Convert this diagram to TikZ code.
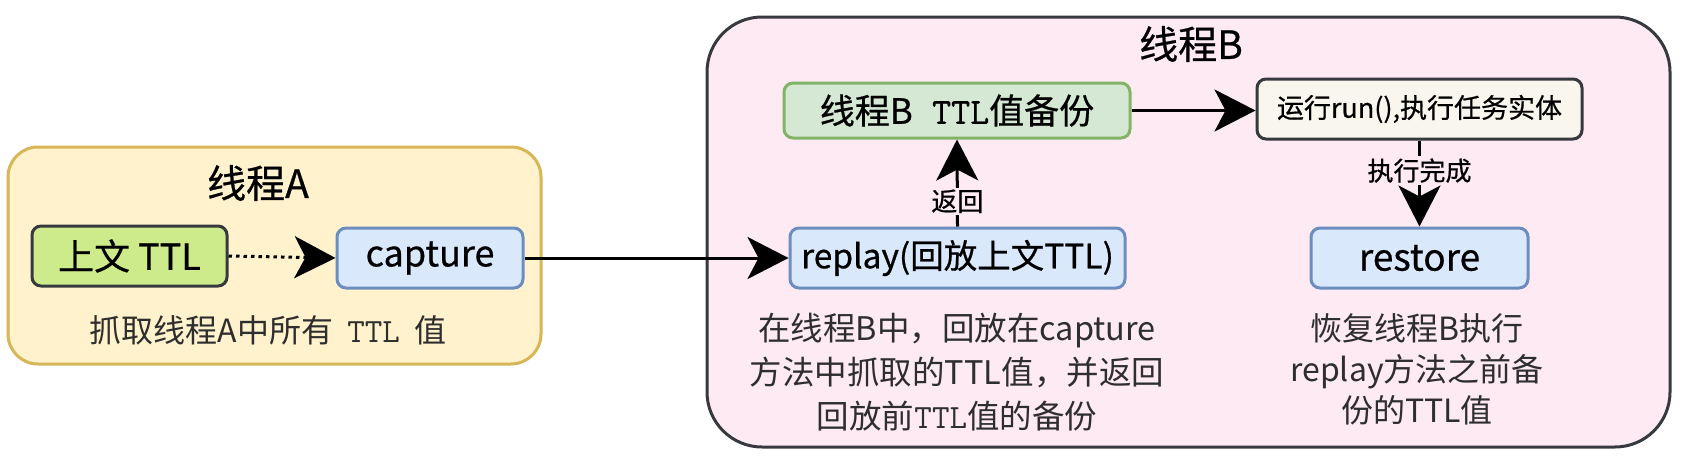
\documentclass[tikz,border=0pt]{standalone}
\usepackage{fontspec}
\setmainfont{Noto Sans CJK SC}
\newfontfamily\medfont[FakeBold=0.6]{Noto Sans CJK SC}
\newfontfamily\medtt[FakeBold=0.8]{Latin Modern Mono}
\usetikzlibrary{arrows.meta}
\definecolor{Afill}{HTML}{FFF2CC}
\definecolor{Adraw}{HTML}{D6B656}
\definecolor{Bfill}{HTML}{FDEAF3}
\definecolor{Bdraw}{HTML}{36393D}
\definecolor{ctxfill}{HTML}{CDEB8B}
\definecolor{darkdraw}{HTML}{36393D}
\definecolor{bluefill}{HTML}{DAE8FC}
\definecolor{bluedraw}{HTML}{6C8EBF}
\definecolor{greenfill}{HTML}{D5E8D4}
\definecolor{greendraw}{HTML}{82B366}
\definecolor{runfill}{HTML}{F9F7ED}
\definecolor{desc}{HTML}{2E2E2E}
\tikzset{
  x=1pt,y=-1pt,
  group/.style={rectangle, line width=3pt, inner sep=0pt},
  box/.style={rectangle, line width=3pt, rounded corners=9pt, inner sep=0pt, minimum height=60pt},
  bluebox/.style={box, fill=bluefill, draw=bluedraw},
  title/.style={inner sep=0pt, font=\medfont\fontsize{39}{47}\selectfont},
  desctext/.style={inner sep=0pt, align=center, text=desc},
  conn/.style={line width=3pt, -{Stealth[length=41pt,width=42pt,inset=11pt]}},
  elabel/.style={fill=Bfill, inner sep=2pt, font=\medfont\fontsize{26}{30}\selectfont}
}
\begin{document}
\begin{tikzpicture}
\useasboundingbox (0,0) rectangle (1688,466);
% groups
\node[group, fill=Afill, draw=Adraw, rounded corners=30pt, minimum width=533pt, minimum height=217pt] (A) at (274.5,255.5) {};
\node[group, fill=Bfill, draw=Bdraw, rounded corners=55pt, minimum width=963pt, minimum height=430pt] (B) at (1188.5,232) {};
\node[title] (tA) at (258,183) {线程A};
\node[title] (tB) at (1191,44) {线程B};
% boxes
\node[box, fill=ctxfill, draw=darkdraw, minimum width=195pt, font=\medfont\fontsize{36}{40}\selectfont] (ctx) at (129.5,256) {上文 TTL};
\node[bluebox, minimum width=186pt, font=\medfont\fontsize{36}{42}\selectfont] (cap) at (430,258) {capture};
\node[box, fill=greenfill, draw=greendraw, minimum width=346pt, minimum height=55pt, font=\medfont\fontsize{35}{40}\selectfont] (bak) at (957,110.5) {线程B\hspace{0.55em}{\medtt\fontsize{37}{40}\selectfont TTL}值备份};
\node[box, fill=runfill, draw=darkdraw, minimum width=325pt, font=\medfont\fontsize{27}{32}\selectfont] (run) at (1419.5,109) {运行run(),执行任务实体};
\node[bluebox, minimum width=335pt, font=\medfont\fontsize{33.5}{40}\selectfont] (rep) at (957.5,258) {replay(回放上文TTL)};
\node[bluebox, minimum width=217pt, font=\medfont\fontsize{37}{42}\selectfont] (res) at (1419.5,258) {restore};
% descriptions
\node[desctext, font=\fontsize{32}{40}\selectfont] (dA) at (268,330) {抓取线程A中所有\hspace{0.45em}{\ttfamily\fontsize{34}{40}\selectfont TTL}\hspace{0.45em}值};
\node[desctext, font=\fontsize{32.5}{44}\selectfont] (dRep) at (957,372) {在线程B中，回放在capture\\方法中抓取的TTL值，并返回\\回放前{\ttfamily\fontsize{34}{44}\selectfont TTL}值的备份};
\node[desctext, font=\fontsize{32}{41}\selectfont] (dRes) at (1417,369) {恢复线程B执行\\replay方法之前备\\份的TTL值};
% connectors
\draw[conn, dash pattern=on 3.5pt off 4pt] (ctx.east) -- (cap.west);
\draw[conn] (cap.east) -- (rep.west);
\draw[conn] (rep.north) -- node[elabel, pos=0.29] (lRet) {返回} (bak.south);
\draw[conn] (bak.east) -- (bak.east -| run.west);
\draw[conn] (run.south) -- node[elabel, pos=0.35] (lDone) {执行完成} (res.north);
\end{tikzpicture}
\end{document}
